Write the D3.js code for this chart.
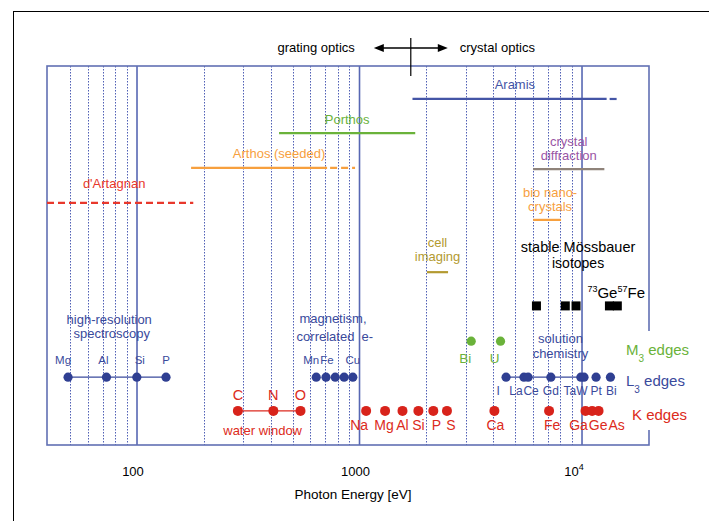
<!DOCTYPE html>
<html>
<head>
<meta charset="utf-8">
<script src="https://cdn.jsdelivr.net/npm/d3@7"></script>
<style>
  body { margin: 0; background: #fff; }
  svg text { font-family: "Liberation Sans", Arial, Helvetica, sans-serif; }
</style>
</head>
<body>
<script>
// beam lines (photon energy ranges in eV)
var lineNames = ["Aramis", "Porthos", "Arthos (seeded)", "d'Artagnan", "crystal diffraction", "bio nano-crystals", "cell imaging"];
var lineLabels = [["Aramis"], ["Porthos"], ["Arthos (seeded)"], ["d'Artagnan"], ["crystal", "diffraction"], ["bio nano-", "crystals"], ["cell", "imaging"]];
var lineStart = [1730, 435, 175, 39.4, 6030, 6030, 2010];
var lineEnd = [12900, 1780, 715, 39.4, 12600, 8050, 2500];
var lineDashEnd = [14400, 1780, 955, 179, 12600, 8050, 2500];
var lineLevel = [91.3, 82.3, 73.1, 63.9, 72.8, 59.4, 45.6];

// absorption edges
var kEdgeElems = ["C", "N", "O", "Na", "Mg", "Al", "Si", "P", "S", "Ca", "Fe", "Ga", "Ge", "As"];
var kEdgeEnergy = [284, 410, 543, 1071, 1303, 1560, 1839, 2146, 2472, 4038, 7112, 10367, 11103, 11867];
var l3Elems = ["I", "La", "Ce", "Gd", "Ta", "W", "Pt", "Bi"];
var l3Energy = [4557, 5483, 5723, 7243, 9881, 10207, 11564, 13419];
var m3Elems = ["Bi", "U"];
var m3Energy = [3177, 4303];
var softElems = ["Mg", "Al", "Si", "P"];
var softEnergy = [49, 72.9, 99.8, 135];
var magElems = ["Mn", "Fe", "", "", "Cu"];
var magEnergy = [639, 707, 778, 853, 933];
var mossIsotopes = ["181Ta", "169Tm", "83Kr", "73Ge", "57Fe"];
var mossEnergy = [6240, 8410, 9400, 13280, 14410];

// row levels
var kLevel = 9.0, l3Level = 17.9, m3Level = 27.4, mossLevel = 36.7;

var majorTicks = [100, 1000, 10000];
var minorTicks = [50, 60, 70, 80, 90, 200, 300, 400, 500, 600, 700, 800, 900,
                  2000, 3000, 4000, 5000, 6000, 7000, 8000, 9000];
var opticsSplit = 1700;

var blue = "#3a4a9c", red = "#dc2a20", green = "#6ab23a";
var colors = {
  "Aramis": "#4455a6",
  "Porthos": "#6ab23a",
  "Arthos (seeded)": "#f7a03e",
  "d'Artagnan": "#e8382c",
  "crystal diffraction": "#9a55a5",
  "bio nano-crystals": "#f7a03e",
  "cell imaging": "#b39a30"
};
var lineColors = { "crystal diffraction": "#8f837a" };
var labelGap = { "Aramis": 10, "Porthos": 9, "Arthos (seeded)": 10, "d'Artagnan": 15,
  "crystal diffraction": 9, "bio nano-crystals": 9, "cell imaging": 11 };
var labelNudge = { "Arthos (seeded)": 6, "d'Artagnan": -6, "bio nano-crystals": 3 };

var W = 709, H = 521;
var plot = { left: 47, right: 649, top: 66, bottom: 445 };

var svg = d3.select("body").append("svg")
  .attr("width", W)
  .attr("height", H);

var x = d3.scaleLog().domain([39.4, 20000]).range([plot.left, plot.right]);
var y = d3.scaleLinear().domain([0, 100]).range([plot.bottom, plot.top]);

// outer frame
svg.append("rect")
  .attr("x", 13.5).attr("y", 11.5)
  .attr("width", 800).attr("height", 600)
  .attr("fill", "none").attr("stroke", "#000").attr("stroke-width", 1);

// grid
svg.selectAll("line.minor")
  .data(minorTicks)
  .enter()
  .append("line")
  .attr("class", "minor")
  .attr("x1", function(d){ return Math.round(x(d)) + 0.5 })
  .attr("x2", function(d){ return Math.round(x(d)) + 0.5 })
  .attr("y1", plot.top).attr("y2", plot.bottom)
  .attr("stroke", "#4f5fb5")
  .attr("stroke-width", 1)
  .attr("stroke-dasharray", "1.5,1.5");

svg.selectAll("line.major")
  .data(majorTicks)
  .enter()
  .append("line")
  .attr("class", "major")
  .attr("x1", function(d){ return x(d) }).attr("x2", function(d){ return x(d) })
  .attr("y1", plot.top).attr("y2", plot.bottom)
  .attr("stroke", "#5767b3")
  .attr("stroke-width", 1.6);

svg.append("rect")
  .attr("x", plot.left).attr("y", plot.top)
  .attr("width", plot.right - plot.left).attr("height", plot.bottom - plot.top)
  .attr("fill", "none").attr("stroke", "#6170b3").attr("stroke-width", 1.6);

// x axis labels
var axis = d3.axisBottom(x).tickValues(majorTicks).tickSize(0).tickFormat("");
svg.append("g").attr("transform", "translate(0," + plot.bottom + ")").call(axis)
  .select(".domain").remove();

var tickText = svg.selectAll("text.tick")
  .data(majorTicks)
  .enter()
  .append("text")
  .attr("class", "tick")
  .attr("x", function(d){ return x(d) - 4 })
  .attr("y", 476)
  .attr("text-anchor", "middle")
  .attr("font-size", 13)
  .text(function(d){ return d < 10000 ? d : "10" });
tickText.filter(function(d){ return d >= 10000 })
  .attr("x", function(d){ return x(d) - 8 })
  .append("tspan").attr("dy", -6).attr("font-size", 9).text("4");

svg.append("text")
  .attr("x", (plot.left + plot.right) / 2 + 5)
  .attr("y", 499)
  .attr("text-anchor", "middle")
  .attr("font-size", 13.5)
  .text("Photon Energy [eV]");

// grating / crystal optics
var xs = x(opticsSplit);
svg.append("line")
  .attr("x1", xs).attr("x2", xs).attr("y1", 38).attr("y2", 76)
  .attr("stroke", "#000").attr("stroke-width", 1.2);
svg.append("line")
  .attr("x1", xs - 28).attr("x2", xs + 28).attr("y1", 48).attr("y2", 48)
  .attr("stroke", "#000").attr("stroke-width", 1.4);
svg.append("path")
  .attr("d", d3.line()([[xs - 37, 48], [xs - 27, 44], [xs - 27, 52]]))
  .attr("fill", "#000");
svg.append("path")
  .attr("d", d3.line()([[xs + 37, 48], [xs + 27, 44], [xs + 27, 52]]))
  .attr("fill", "#000");
svg.append("text").attr("x", xs - 56).attr("y", 52).attr("text-anchor", "end")
  .attr("font-size", 13).text("grating optics");
svg.append("text").attr("x", xs + 49).attr("y", 52)
  .attr("font-size", 13).text("crystal optics");

// beam lines
var beams = lineNames.map(function(n, i){
  return { name: n, label: lineLabels[i], lo: lineStart[i], hi: lineEnd[i], ext: lineDashEnd[i], level: lineLevel[i] };
});

var beamG = svg.selectAll("g.beam")
  .data(beams)
  .enter()
  .append("g")
  .attr("class", "beam");

beamG.filter(function(d){ return d.hi > d.lo })
  .append("line")
  .attr("x1", function(d){ return x(d.lo) })
  .attr("x2", function(d){ return x(d.hi) })
  .attr("y1", function(d){ return y(d.level) })
  .attr("y2", function(d){ return y(d.level) })
  .attr("stroke", function(d){ return lineColors[d.name] || colors[d.name] })
  .attr("stroke-width", 2.2);

beamG.filter(function(d){ return d.ext > d.hi })
  .append("line")
  .attr("x1", function(d){ return x(d.hi) + (d.hi > d.lo ? 3 : 0) })
  .attr("x2", function(d){ return x(d.ext) })
  .attr("y1", function(d){ return y(d.level) })
  .attr("y2", function(d){ return y(d.level) })
  .attr("stroke", function(d){ return colors[d.name] })
  .attr("stroke-width", 2.2)
  .attr("stroke-dasharray", "7,4");

beamG.each(function(d){
  var g = d3.select(this);
  var cx = (x(d.lo) + x(d.ext)) / 2 + (labelNudge[d.name] || 0);
  var n = d.label.length;
  g.selectAll("text")
    .data(d.label)
    .enter()
    .append("text")
    .attr("x", cx)
    .attr("y", function(t, i){ return y(d.level) - labelGap[d.name] - (n - 1 - i) * 14 })
    .attr("text-anchor", "middle")
    .attr("font-size", 13)
    .attr("fill", colors[d.name])
    .text(function(t){ return t });
});

// helper for a row of edge dots
function edgeRow(names, energies, level, color, r, cls){
  var pts = names.map(function(n, i){ return { name: n, e: energies[i] } });
  svg.selectAll("circle." + cls)
    .data(pts)
    .enter()
    .append("circle")
    .attr("class", cls)
    .attr("cx", function(d){ return x(d.e) })
    .attr("cy", y(level))
    .attr("r", r)
    .attr("fill", color);
  return pts;
}
function edgeLabels(pts, level, color, dy, size, shift, cls){
  svg.selectAll("text." + cls)
    .data(pts)
    .enter()
    .append("text")
    .attr("class", cls)
    .attr("x", function(d){ return x(d.e) + (shift[d.name] || 0) })
    .attr("y", y(level) + dy)
    .attr("text-anchor", "middle")
    .attr("font-size", size)
    .attr("fill", color)
    .text(function(d){ return d.name });
}
function connect(e1, e2, level, color){
  svg.append("line")
    .attr("x1", x(e1)).attr("x2", x(e2))
    .attr("y1", y(level)).attr("y2", y(level))
    .attr("stroke", color).attr("stroke-width", 1.4);
}

// soft L edges (high-resolution spectroscopy)
connect(softEnergy[0], softEnergy[softEnergy.length - 1], l3Level, blue);
var softPts = edgeRow(softElems, softEnergy, l3Level, "#2f3f92", 4.6, "soft");
edgeLabels(softPts, l3Level, blue, -13, 11.5, { "Mg": -5, "Al": -3, "Si": 3 }, "softlab");
svg.append("text").attr("x", x(75)).attr("y", 324).attr("text-anchor", "middle")
  .attr("font-size", 13).attr("fill", blue).text("high-resolution");
svg.append("text").attr("x", x(77)).attr("y", 338).attr("text-anchor", "middle")
  .attr("font-size", 13).attr("fill", blue).text("spectroscopy");

// magnetism
var magPts = edgeRow(magElems, magEnergy, l3Level, "#2f3f92", 4.6, "mag");
edgeLabels(magPts.filter(function(d){ return d.name }), l3Level, blue, -13, 11.5, { "Mn": -5, "Fe": 1 }, "maglab");
svg.append("text").attr("x", x(760)).attr("y", 323).attr("text-anchor", "middle")
  .attr("font-size", 13).attr("fill", blue).text("magnetism,");
svg.append("text").attr("x", x(775)).attr("y", 341).attr("text-anchor", "middle")
  .attr("font-size", 13).attr("fill", blue).style("white-space", "pre").text("correlated  e-");

// L3 edges
connect(l3Energy[0], l3Energy[5], l3Level, blue);
var l3Pts = edgeRow(l3Elems, l3Energy, l3Level, "#2f3f92", 4.6, "l3");
edgeLabels(l3Pts, l3Level, blue, 18, 12, { "I": -8, "La": -8, "Ce": 3, "Ta": -11, "W": -2, "Bi": 1 }, "l3lab");
svg.append("text").attr("x", x(8000)).attr("y", 343).attr("text-anchor", "middle")
  .attr("font-size", 13).attr("fill", blue).text("solution");
svg.append("text").attr("x", x(8000)).attr("y", 358).attr("text-anchor", "middle")
  .attr("font-size", 13).attr("fill", blue).text("chemistry");

// M3 edges
var m3Pts = edgeRow(m3Elems, m3Energy, m3Level, green, 4.6, "m3");
edgeLabels(m3Pts, m3Level, green, 22, 13.5, { "Bi": -6, "U": -6 }, "m3lab");

// K edges
connect(kEdgeEnergy[0], kEdgeEnergy[2], kLevel, red);
var kPts = edgeRow(kEdgeElems, kEdgeEnergy, kLevel, "#d8231b", 5, "k");
var kAbove = ["C", "N", "O"];
edgeLabels(kPts.filter(function(d){ return kAbove.indexOf(d.name) > -1 }), kLevel, red, -11, 14.5, {}, "kup");

// Mossbauer isotopes
svg.selectAll("rect.moss")
  .data(mossEnergy)
  .enter()
  .append("rect")
  .attr("class", "moss")
  .attr("x", function(d){ return x(d) - 4.5 })
  .attr("y", y(mossLevel) - 4.5)
  .attr("width", 9).attr("height", 9)
  .attr("fill", "#000");
svg.append("text").attr("x", x(9600)).attr("y", 252).attr("text-anchor", "middle")
  .attr("font-size", 14.5).text("stable Mössbauer");
svg.append("text").attr("x", x(9600)).attr("y", 268).attr("text-anchor", "middle")
  .attr("font-size", 14).text("isotopes");
var iso = svg.append("text").attr("x", x(mossEnergy[3]) - 22).attr("y", y(mossLevel) - 8)
  .attr("font-size", 15);
iso.append("tspan").attr("font-size", 9).attr("dy", -6).text("73");
iso.append("tspan").attr("dy", 6).text("Ge");
iso.append("tspan").attr("font-size", 9).attr("dy", -6).text("57");
iso.append("tspan").attr("dy", 6).text("Fe");

// edge legend on the right (covers the frame)
svg.append("rect").attr("x", 626).attr("y", 331).attr("width", 83).attr("height", 99).attr("fill", "#fff");
var legend = [
  { main: "M", sub: "3", rest: " edges", color: green, base: 355 },
  { main: "L", sub: "3", rest: " edges", color: blue, base: 386 },
  { main: "K", sub: "", rest: " edges", color: red, base: 420 }
];
legend.forEach(function(l){
  var t = svg.append("text").attr("x", l.sub ? 626 : 632).attr("y", l.base)
    .attr("font-size", 15).attr("fill", l.color);
  t.append("tspan").text(l.main);
  if (l.sub) {
    t.append("tspan").attr("font-size", 10).attr("dy", 7).text(l.sub);
    t.append("tspan").attr("dy", -7).text(l.rest);
  } else {
    t.append("tspan").text(l.rest);
  }
});

edgeLabels(kPts.filter(function(d){ return kAbove.indexOf(d.name) === -1 }), kLevel, red, 19, 14,
  { "Na": -7, "Mg": -1, "P": 3, "S": 4, "Ca": 1, "Fe": 3, "Ga": -7, "Ge": 6, "As": 18 }, "kdown");
svg.append("text").attr("x", x(367)).attr("y", 435).attr("text-anchor", "middle")
  .attr("font-size", 13).attr("fill", red).text("water window");
</script>
</body>
</html>
